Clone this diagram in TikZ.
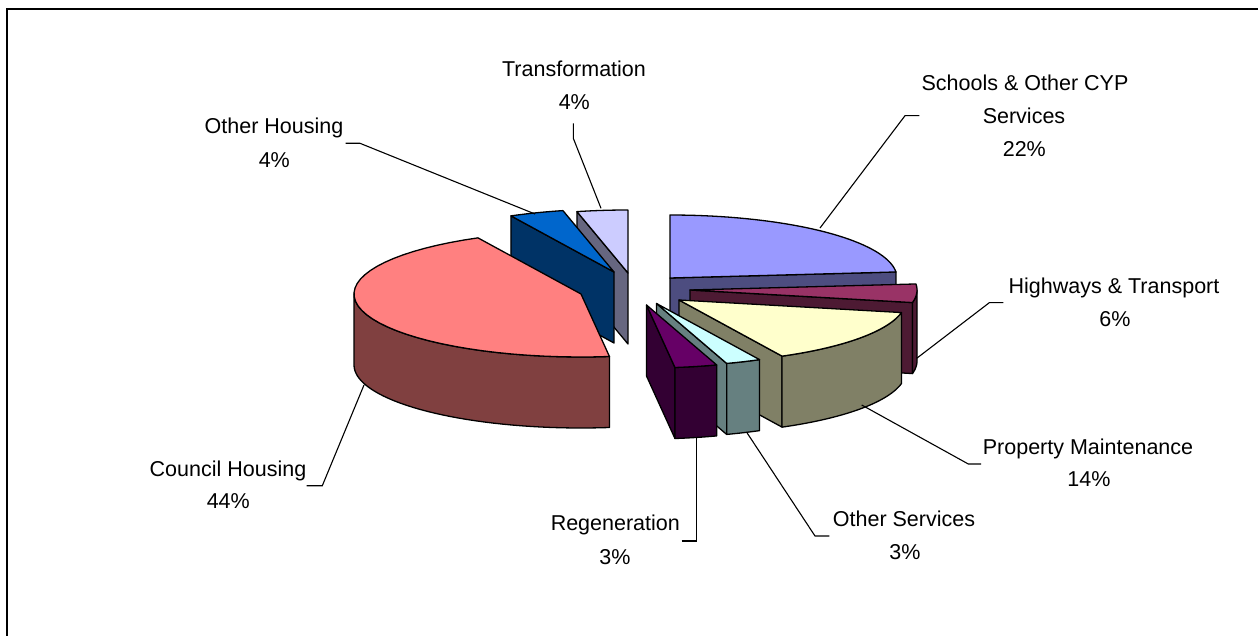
\documentclass[tikz,border=0pt]{standalone}
\usepackage{fontspec}
\setmainfont{Liberation Sans}
\newcommand\pieRX{227}
\newcommand\pieRY{63}
\newcommand\pieDP{71}
% top face: #1 fill, #2 apex x, #3 apex y, #4 start angle, #5 end angle
\newcommand\sliceTop[5]{%
  \filldraw[pieline,fill=#1] (#2,#3) -- plot[domain=#4:#5,samples=40,variable=\t]
    ({#2+\pieRX*cos(\t)},{#3-\pieRY*sin(\t)}) -- cycle;}
% curved outer side
\newcommand\sliceSide[5]{%
  \filldraw[pieline,fill=#1] plot[domain=#4:#5,samples=40,variable=\t]
    ({#2+\pieRX*cos(\t)},{#3-\pieRY*sin(\t)})
    -- plot[domain=#4:#5,samples=40,variable=\t]
    ({#2+\pieRX*cos(#4+#5-\t)},{#3+\pieDP-\pieRY*sin(#4+#5-\t)}) -- cycle;}
% radial cut face at angle #4
\newcommand\sliceFace[4]{%
  \filldraw[pieline,fill=#1] (#2,#3) -- ({#2+\pieRX*cos(#4)},{#3-\pieRY*sin(#4)})
    -- ++(0,\pieDP) -- ({#2},{#3+\pieDP}) -- cycle;}
\definecolor{schT}{HTML}{9999FF}\definecolor{schS}{HTML}{4D4D80}
\definecolor{hwyT}{HTML}{993366}\definecolor{hwyS}{HTML}{4D1A33}
\definecolor{prmT}{HTML}{FFFFCC}\definecolor{prmS}{HTML}{808066}
\definecolor{osvT}{HTML}{CCFFFF}\definecolor{osvS}{HTML}{668080}
\definecolor{regT}{HTML}{660066}\definecolor{regS}{HTML}{330033}
\definecolor{couT}{HTML}{FF8080}\definecolor{couS}{HTML}{804040}
\definecolor{ohsT}{HTML}{0066CC}\definecolor{ohsS}{HTML}{003366}
\definecolor{trfT}{HTML}{CCCCFF}\definecolor{trfS}{HTML}{666680}
\begin{document}
\begin{tikzpicture}[x=1pt,y=-1pt,
  pieline/.style={draw=black,line width=1.3pt,line join=round},
  leader/.style={draw=black,line width=1.1pt},
  lbl/.style={anchor=base,inner sep=0pt,font=\fontsize{21.5pt}{26pt}\selectfont}]
\useasboundingbox (0,0) rectangle (1258,636);
\fill[white] (0,0) rectangle (1258,636);
\draw[line width=2.2pt] (1258,9.3) -- (7.3,9.3) -- (7.3,636);

% Transformation
\sliceFace{trfS}{628}{273}{103}
\sliceTop{trfT}{628}{273}{90}{103}
% Other Housing
\sliceFace{ohsS}{614}{272}{117}
\sliceTop{ohsT}{614}{272}{103}{117}
% Schools
\sliceFace{schS}{670}{278}{5.5}
\sliceTop{schT}{670}{278}{5.5}{90}
% Highways
\sliceFace{hwyS}{690}{290}{-11.5}
\sliceSide{hwyS}{690}{290}{-11.5}{0}
\sliceTop{hwyT}{690}{290}{-11.5}{5.5}
% Council Housing
\sliceSide{couS}{581}{294}{180}{277.2}
\sliceTop{couT}{581}{294}{117}{277.2}
% Property Maintenance
\sliceFace{prmS}{679}{300}{-63}
\sliceSide{prmS}{679}{300}{-63}{-11.5}
\sliceTop{prmT}{679}{300}{-63}{-11.5}
% Other Services
\sliceFace{osvS}{656.5}{303.5}{-72}
\sliceSide{osvS}{656.5}{303.5}{-72}{-63}
\sliceTop{osvT}{656.5}{303.5}{-72}{-63}
% Regeneration
\sliceFace{regS}{646.5}{305}{-82.8}
\sliceSide{regS}{646.5}{305}{-82.8}{-72}
\sliceTop{regT}{646.5}{305}{-82.8}{-72}

% labels
\node[lbl] (schA) at (1025,90.7) {Schools \& Other CYP};
\node[lbl] (schB) at (1024,123.3) {Services};
\node[lbl] (schC) at (1024.3,156.7) {22\%};
\node[lbl] (hwyA) at (1114,293.3) {Highways \& Transport};
\node[lbl] (hwyB) at (1115,326.7) {6\%};
\node[lbl] (prmA) at (1088,454) {Property Maintenance};
\node[lbl] (prmB) at (1089,486.7) {14\%};
\node[lbl] (osvA) at (904,526) {Other Services};
\node[lbl] (osvB) at (905,559.3) {3\%};
\node[lbl] (regA) at (615.3,530) {Regeneration};
\node[lbl] (regB) at (615,564) {3\%};
\node[lbl] (couA) at (228,476.7) {Council Housing};
\node[lbl] (couB) at (228.3,508.3) {44\%};
\node[lbl] (ohsA) at (274,134) {Other Housing};
\node[lbl] (ohsB) at (274.3,168) {4\%};
\node[lbl] (trfA) at (574,76.7) {Transformation};
\node[lbl] (trfB) at (574.3,110) {4\%};

% leader line ends
\coordinate (schL) at (919.3,115.7); \coordinate (schK) at (905,115.7); \coordinate (schP) at (820,228);
\coordinate (hwyL) at (1003.3,302.7); \coordinate (hwyK) at (989.3,302.7); \coordinate (hwyP) at (916.7,358.3);
\coordinate (prmL) at (981,464); \coordinate (prmK) at (968.3,464); \coordinate (prmP) at (861.7,405);
\coordinate (osvL) at (829.3,536); \coordinate (osvK) at (815,536); \coordinate (osvP) at (746.7,432.3);
\coordinate (regL) at (681.7,541); \coordinate (regK) at (696.7,541); \coordinate (regP) at (696.7,438.3);
\coordinate (couL) at (306.7,485.7); \coordinate (couK) at (322.3,485.7); \coordinate (couP) at (364,385);
\coordinate (ohsL) at (345.7,143.3); \coordinate (ohsK) at (360,143.3); \coordinate (ohsP) at (535,214);
\coordinate (trfL) at (573.3,123.3); \coordinate (trfK) at (573.3,138.3); \coordinate (trfP) at (601,208.3);
\foreach \s in {sch,hwy,prm,osv,reg,cou,ohs,trf}
  \draw[leader] (\s L) -- (\s K) -- (\s P);
\end{tikzpicture}
\end{document}
